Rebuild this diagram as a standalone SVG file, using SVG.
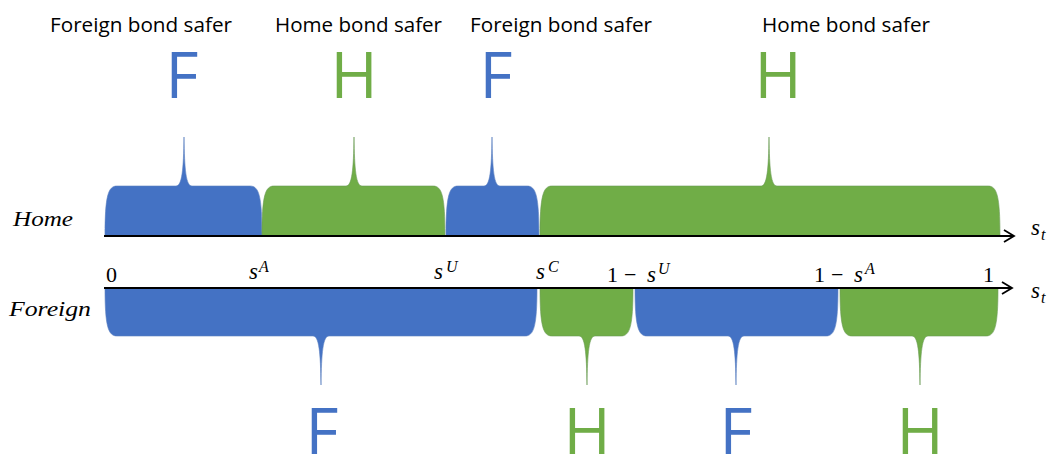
<svg xmlns="http://www.w3.org/2000/svg" width="1052" height="459" viewBox="0 0 1052 459">
<style>
.b{fill:#4472C4;stroke:#5a7fc0;stroke-width:0.6}
.g{fill:#70AD47;stroke:#6a9a55;stroke-width:0.6}
.big{font-family:"Open Sans","Liberation Sans",sans-serif;font-size:64px}
.bl{fill:#4472C4}
.gl{fill:#70AD47}
.hd{font-family:"Open Sans","Liberation Sans",sans-serif;font-size:20px;fill:#000}
.m{font-family:"Liberation Serif","DejaVu Serif",serif;font-size:22px;fill:#000}
.mi{font-family:"Liberation Serif","DejaVu Serif",serif;font-size:23px;font-style:italic;fill:#000}
.lab{font-family:"Liberation Serif","DejaVu Serif",serif;font-size:21px;font-style:italic;fill:#000}
.sup{font-family:"Liberation Serif","DejaVu Serif",serif;font-size:16px;font-style:italic;fill:#000}
.ax{stroke:#000;stroke-width:2;fill:none}
</style>
<defs>
<marker id="arr" markerWidth="14" markerHeight="14" refX="12" refY="7" orient="auto" markerUnits="userSpaceOnUse">
<polyline points="2,1 12,7 2,13" fill="none" stroke="#000" stroke-width="1.8"/>
</marker>
</defs>

<g id="headings">
<text class="hd" x="50" y="32" textLength="182" lengthAdjust="spacingAndGlyphs">Foreign bond safer</text>
<text class="hd" x="275" y="32" textLength="167" lengthAdjust="spacingAndGlyphs">Home bond safer</text>
<text class="hd" x="470" y="32" textLength="182" lengthAdjust="spacingAndGlyphs">Foreign bond safer</text>
<text class="hd" x="762" y="32" textLength="168" lengthAdjust="spacingAndGlyphs">Home bond safer</text>
</g>

<g id="top-letters">
<text class="big bl" x="182" y="98" text-anchor="middle">F</text>
<text class="big gl" x="354" y="98" text-anchor="middle">H</text>
<text class="big bl" x="496" y="98" text-anchor="middle">F</text>
<text class="big gl" x="778" y="98" text-anchor="middle">H</text>
</g>

<g id="home-braces">
<path id="h1" class="b" d="M105,236 C105,196 108,186 117,186 L176,186 C182,186 183.5,170 184,137 C184.5,170 186,186 192,186 L250,186 C259,186 262,196 262,236 Z"/>
<path id="h2" class="g" d="M262,236 C262,196 265,186 274,186 L346,186 C352,186 353.5,170 354,137 C354.5,170 356,186 362,186 L433,186 C442,186 445,196 445,236 Z"/>
<path id="h3" class="b" d="M446,236 C446,196 449,186 458,186 L484,186 C490,186 491.5,170 492,137 C492.5,170 494,186 500,186 L527,186 C536,186 539,196 539,236 Z"/>
<path id="h4" class="g" d="M540,236 C540,196 543,186 552,186 L761,186 C767,186 768.5,170 769,137 C769.5,170 771,186 777,186 L988,186 C997,186 1000,196 1000,236 Z"/>
</g>

<g id="foreign-braces">
<path id="f1" class="b" d="M105,288 C105,326 108,336 117,336 L313,336 C319,336 320.5,352 321,385 C321.5,352 323,336 329,336 L525,336 C534,336 537,326 537,288 Z"/>
<path id="f2" class="g" d="M540,288 C540,326 543,336 552,336 L579,336 C585,336 586.5,352 587,385 C587.5,352 589,336 595,336 L621,336 C630,336 633,326 633,288 Z"/>
<path id="f3" class="b" d="M635,288 C635,326 638,336 647,336 L728,336 C734,336 735.5,352 736,385 C736.5,352 738,336 744,336 L826,336 C835,336 838,326 838,288 Z"/>
<path id="f4" class="g" d="M840,288 C840,326 843,336 852,336 L912,336 C918,336 919.5,352 920,385 C920.5,352 922,336 928,336 L986,336 C995,336 998,326 998,288 Z"/>
</g>

<g id="connectors">
<line class="ax" x1="104" y1="236" x2="1014" y2="236" marker-end="url(#arr)"/>
<line class="ax" x1="104" y1="288" x2="1012" y2="288" marker-end="url(#arr)"/>
</g>

<g id="bottom-letters">
<text class="big bl" x="322" y="454" text-anchor="middle">F</text>
<text class="big gl" x="587" y="454" text-anchor="middle">H</text>
<text class="big bl" x="736" y="454" text-anchor="middle">F</text>
<text class="big gl" x="920" y="454" text-anchor="middle">H</text>
</g>

<g id="axis-labels">
<text class="lab" x="13" y="226" textLength="60" lengthAdjust="spacingAndGlyphs">Home</text>
<text class="lab" x="9" y="316" textLength="82" lengthAdjust="spacingAndGlyphs">Foreign</text>
<text class="m" x="106" y="282">0</text>
<text class="mi" x="249" y="279">s</text><text class="sup" x="259" y="272">A</text>
<text class="mi" x="434" y="279">s</text><text class="sup" x="446" y="272">U</text>
<text class="mi" x="536" y="279">s</text><text class="sup" x="548" y="272">C</text>
<text class="m" x="607" y="282">1</text><text class="m" x="624" y="282">−</text><text class="mi" x="647" y="282">s</text><text class="sup" x="658" y="274">U</text>
<text class="m" x="814" y="282">1</text><text class="m" x="831" y="282">−</text><text class="mi" x="854" y="282">s</text><text class="sup" x="865" y="274">A</text>
<text class="m" x="983" y="282">1</text>
<text class="mi" x="1031" y="235">s</text><text class="sup" x="1041" y="240">t</text>
<text class="mi" x="1031" y="298">s</text><text class="sup" x="1041" y="303">t</text>
</g>
</svg>
